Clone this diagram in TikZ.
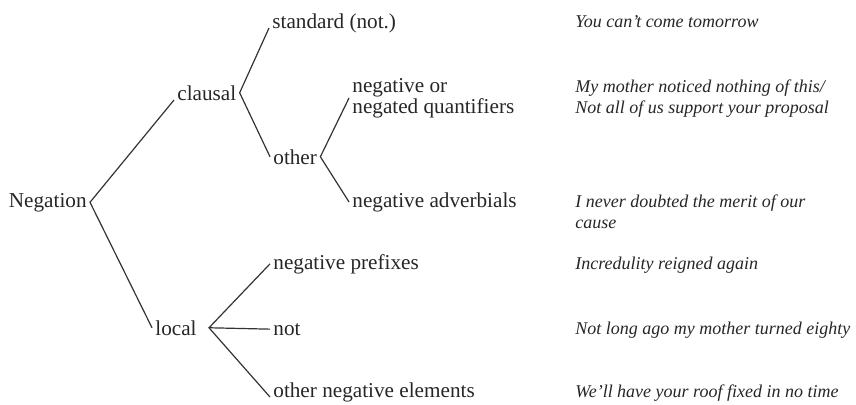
\documentclass[tikz,border=0pt]{standalone}
\usepackage{fontspec}
\setmainfont{Liberation Serif}
\usetikzlibrary{positioning}
\tikzset{cat/.style={inner sep=1.5pt, text=black!85, align=left,
		font=\fontsize{10.6}{10.5}\selectfont}}
\tikzset{ex/.style={inner sep=0pt, anchor=base west, text=black!85, align=left,
		font=\fontsize{9}{10.5}\selectfont\itshape}}
\tikzset{branch/.style={draw=black!80, line width=0.6pt}}

\begin{document}
\begin{tikzpicture}[x=0.5pt, y=-0.5pt]
		\useasboundingbox (0,0) rectangle (856,404);
		
		\node[cat, anchor=base east] (neg) at (90,207) {Negation};
		\node[cat, anchor=base west] (cl) at (174,100) {clausal};
		\node[cat, anchor=base west] (loc) at (152,335) {local};
		\node[cat, anchor=base west] (std) at (269,28) {standard (not.)};
		\node[cat, anchor=base west] (oth) at (270,164) {other};
		\node[cat, anchor=west] (nq) at (349,98) {negative or\\negated quantifiers};
		\node[cat, anchor=base west] (nadv) at (349,207) {negative adverbials};
		\node[cat, anchor=base west] (npre) at (270,269) {negative prefixes};
		\node[cat, anchor=base west] (nnot) at (270,335) {not};
		\node[cat, anchor=base west] (nel) at (270,397) {other negative elements};
		
		% examples
		\node[ex] (ex1) at (575,27) {You can't come tomorrow};
		\node[ex] (ex2) at (575,113) {My mother noticed nothing of this/\\Not all of us support your proposal};
		\node[ex] (ex3) at (575,228) {I never doubted the merit of our\\cause};
		\node[ex] (ex4) at (575,269) {Incredulity reigned again};
		\node[ex] (ex5) at (575,334) {Not long ago my mother turned eighty};
		\node[ex] (ex6) at (575,397) {We'll have your roof fixed in no time};
		
		\draw[branch] (cl.base west) -- (neg.east) -- (loc.west);
		\draw[branch] (std.base west) -- (cl.east) -- (oth.west);
		\draw[branch] (nq.west) -- (oth.east) -- (nadv.west);
		\draw[branch] (npre.west) -- ([xshift=4.5pt]loc.east) -- (nel.base west);
		\draw[branch] ([xshift=4.5pt]loc.east) -- (nnot.west);
\end{tikzpicture}
\end{document}
